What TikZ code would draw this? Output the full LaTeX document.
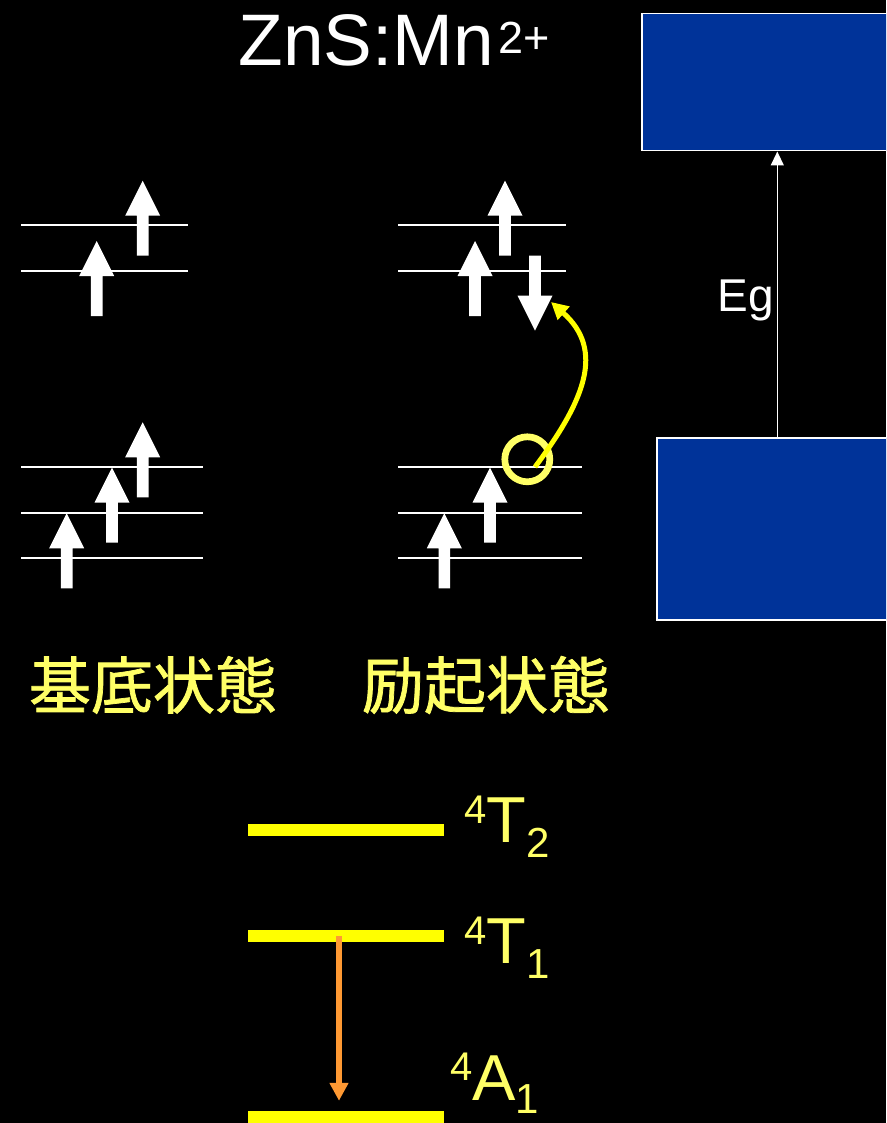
\documentclass[tikz,border=0pt]{standalone}
\usepackage{fontspec}
\setmainfont{Liberation Sans}
\newfontfamily\cjk[FakeBold=1.2]{Noto Sans CJK JP}
\usetikzlibrary{arrows.meta,calc}
\definecolor{bandblue}{HTML}{003399}
\definecolor{lyellow}{HTML}{FFFF66}
\definecolor{pyellow}{HTML}{FFFF00}
\definecolor{orng}{HTML}{FF9933}
\tikzset{
  spinup/.pic={\fill[white] (-5.8,0) -- (-5.8,40) -- (-17.5,40) -- (0,75) -- (17.5,40) -- (5.8,40) -- (5.8,0) -- cycle;},
  orbital/.style={white, line width=1.7pt},
  band/.style={draw=white, line width=1.5pt, fill=bandblue, anchor=north west, inner sep=0pt},
  level/.style={fill=pyellow, inner sep=0pt, minimum width=196pt, minimum height=12pt},
  statelabel/.style={text=lyellow, inner sep=0pt, anchor=base west},
  cjklabel/.style={text=lyellow, inner sep=0pt, font=\cjk\fontsize{62}{62}\selectfont},
}
\begin{document}
\begin{tikzpicture}[x=1pt,y=1pt]
\clip (0,0) rectangle (886,-1123);
\fill[black] (0,0) rectangle (886,-1123);

% title
\node[white, inner sep=0pt, anchor=base west] (title) at (238.5,-66)
  {\fontsize{73}{73}\selectfont ZnS:Mn\kern4pt\raisebox{12pt}{\fontsize{45}{45}\selectfont 2+}};

% ground state upper orbitals
\draw[orbital] (21,-225) -- (188,-225);
\draw[orbital] (21,-270.7) -- (188,-270.7);
\pic at (142.7,-255.7) {spinup};
\pic at (96.7,-316) {spinup};
% ground state lower orbitals
\draw[orbital] (21,-467) -- (203,-467);
\draw[orbital] (21,-512.7) -- (203,-512.7);
\draw[orbital] (21,-557.7) -- (203,-557.7);
\pic at (66.7,-588.3) {spinup};
\pic at (112,-542.7) {spinup};
\pic at (142.7,-497.3) {spinup};

% excited state upper orbitals
\draw[orbital] (398.3,-225) -- (566,-225);
\draw[orbital] (398.3,-270.7) -- (566,-270.7);
\pic at (505,-255.7) {spinup};
\pic at (475,-316) {spinup};
\pic[rotate=180] at (535,-255.7) {spinup};
% excited state lower orbitals
\draw[orbital] (398.3,-467) -- (581.7,-467);
\draw[orbital] (398.3,-512.7) -- (581.7,-512.7);
\draw[orbital] (398.3,-557.7) -- (581.7,-557.7);
\pic at (444.3,-588.3) {spinup};
\pic at (490,-542.7) {spinup};

% hole and excitation
\node[circle, draw=lyellow, line width=6.7pt, minimum size=45pt, inner sep=0pt] (hole) at (527.3,-459.3) {};
\coordinate (holestart) at (535,-467);
\coordinate (downtip) at (551,-302);
\draw[pyellow, line width=5pt, -{Triangle[length=17pt,width=17pt]}]
  (holestart) .. controls (585,-400) and (605,-350) .. (downtip);

% labels
\node[cjklabel] (gs) at (153,-685) {基底状態};
\node[cjklabel] (es) at (486,-685) {励起状態};

% bands
\node[band, minimum width=250pt, minimum height=137pt] (cb) at (641,-13) {};
\node[band, minimum width=235pt, minimum height=182pt] (vb) at (656,-437) {};
\coordinate (egx) at (777.3,0);
\draw[white, line width=1.3pt, -{Triangle[length=14pt,width=13pt]}] (vb.north -| egx) -- (cb.south -| egx);
\node[white, inner sep=0pt, anchor=east] (eg) at (774,-300) {\fontsize{46}{46}\selectfont Eg};

% Mn2+ levels
\node[level] (T2) at (346.3,-830) {};
\node[level] (T1) at (346.3,-936) {};
\node[level] (A1) at (346.3,-1117) {};
\coordinate (ax) at (339,0);
\draw[orng, line width=6pt, shorten >=10pt, -{Triangle[length=18pt,width=18pt]}] (T1.center -| ax) -- (A1.north -| ax);

\node[statelabel] (lT2) at (464,-842) {\fontsize{65}{65}\selectfont\raisebox{19pt}{\fontsize{40}{40}\selectfont 4}T\raisebox{-15pt}{\fontsize{42}{42}\selectfont 2}};
\node[statelabel] (lT1) at (464,-963) {\fontsize{65}{65}\selectfont\raisebox{19pt}{\fontsize{40}{40}\selectfont 4}T\raisebox{-15pt}{\fontsize{42}{42}\selectfont 1}};
\node[statelabel] (lA1) at (450,-1100) {\fontsize{65}{65}\selectfont\raisebox{20pt}{\fontsize{40}{40}\selectfont 4}A\raisebox{-13pt}{\fontsize{42}{42}\selectfont 1}};
\end{tikzpicture}
\end{document}
